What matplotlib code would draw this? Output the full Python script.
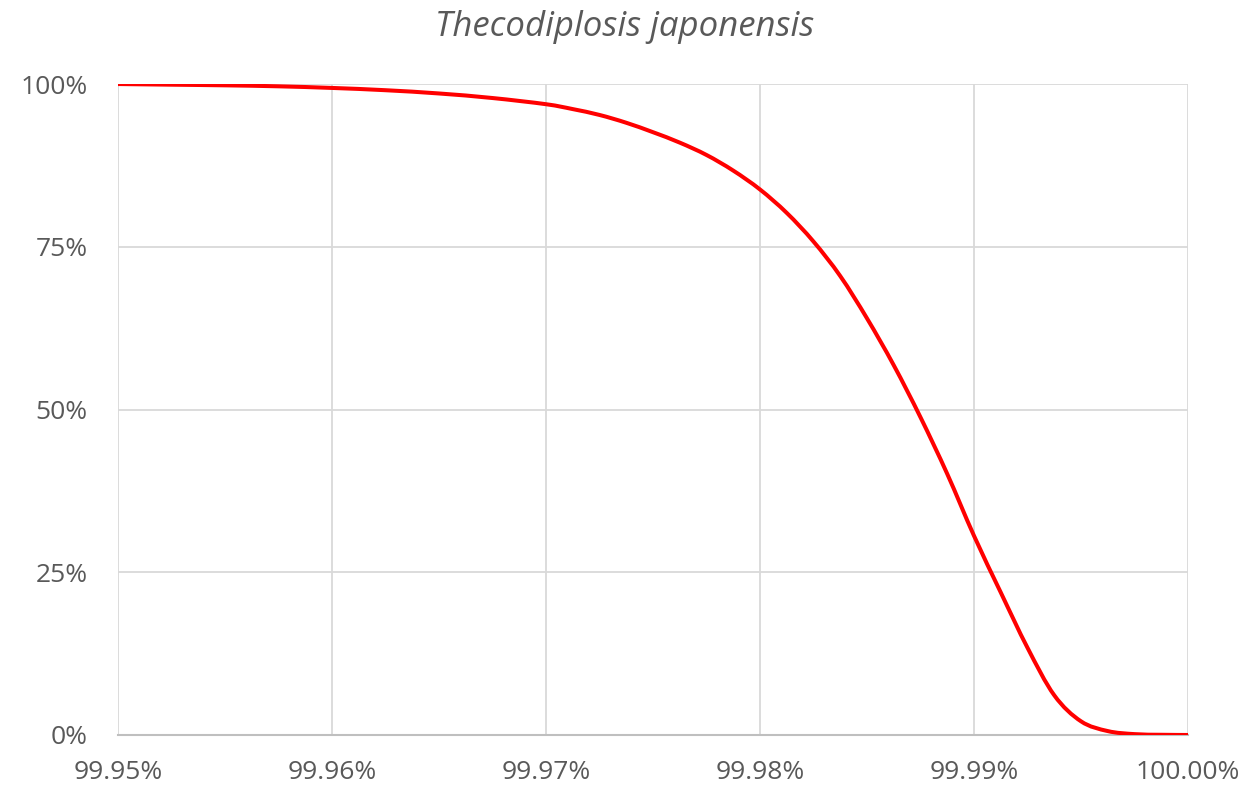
import matplotlib
matplotlib.use("Agg")
import matplotlib.pyplot as plt
import numpy as np
from matplotlib.path import Path
from matplotlib.patches import PathPatch
from matplotlib.ticker import FuncFormatter

# cumulative share (x) vs. survival curve (y), both in percent
share = [99.9500, 99.9525, 99.9550, 99.9575, 99.9600, 99.9625, 99.9650, 99.9675,
         99.9700, 99.97125, 99.9725, 99.97375, 99.9750, 99.97625, 99.9775, 99.97875,
         99.9800, 99.98125, 99.9825, 99.98375, 99.9850, 99.98625, 99.9875, 99.98875,
         99.9900, 99.99125, 99.9925, 99.99375, 99.9950, 99.99625, 99.9975, 99.99875,
         100.0000]
survival = [100.0, 99.9, 99.8, 99.65, 99.4, 99.05, 98.55, 97.85,
            96.9, 96.15, 95.25, 94.05, 92.6, 91.0, 89.1, 86.7,
            83.8, 80.2, 75.8, 70.5, 64.0, 56.8, 48.8, 40.1,
            30.6, 21.9, 13.4, 6.1, 2.1, 0.6, 0.13, 0.03,
            0.0]

x_ticks = [99.95, 99.96, 99.97, 99.98, 99.99, 100.00]
y_ticks = [0, 25, 50, 75, 100]
title = "Thecodiplosis japonensis"

plt.rcParams["font.family"] = ["Open Sans", "DejaVu Sans"]
text_color = "#595959"


def smooth_path(xs, ys):
    """Smoothed line through the points as cubic Bezier segments (Catmull-Rom tangents)."""
    pts = np.column_stack([xs, ys])
    ext = np.vstack([pts[0], pts, pts[-1]])
    verts = [pts[0]]
    codes = [Path.MOVETO]
    for i in range(len(pts) - 1):
        p0, p1, p2, p3 = ext[i], ext[i + 1], ext[i + 2], ext[i + 3]
        verts += [p1 + (p2 - p0) / 6, p2 - (p3 - p1) / 6, p2]
        codes += [Path.CURVE4] * 3
    return Path(verts, codes)


fig = plt.figure(figsize=(12.5, 7.95), dpi=100)
ax = fig.add_axes([0.0944, 0.0755, 0.856, 0.8188])

curve = PathPatch(smooth_path(share, survival), fill=False, edgecolor="#FF0000",
                  lw=2.9, capstyle="round", zorder=3)
ax.add_patch(curve)

ax.set_xlim(99.95, 100.0)
ax.set_ylim(0, 100)
ax.set_xticks(x_ticks)
ax.set_yticks(y_ticks)
ax.xaxis.set_major_formatter(FuncFormatter(lambda v, p: f"{v:.2f}%"))
ax.yaxis.set_major_formatter(FuncFormatter(lambda v, p: f"{v:.0f}%"))

ax.grid(True, color="#D9D9D9", lw=1.3)
ax.set_axisbelow(True)
for side in ["top", "right", "left"]:
    ax.spines[side].set_visible(False)
ax.spines["bottom"].set_color("#BFBFBF")
ax.spines["bottom"].set_linewidth(1.5)
ax.spines["bottom"].set_zorder(2)

ax.tick_params(axis="both", length=0, labelsize=19, labelcolor=text_color)
ax.tick_params(axis="x", pad=18)
ax.tick_params(axis="y", pad=22)

fig.text(0.5, 0.966, title, ha="center", va="center", fontsize=25,
         style="italic", color=text_color)

fig.savefig("out.png", dpi=100, facecolor="white")
